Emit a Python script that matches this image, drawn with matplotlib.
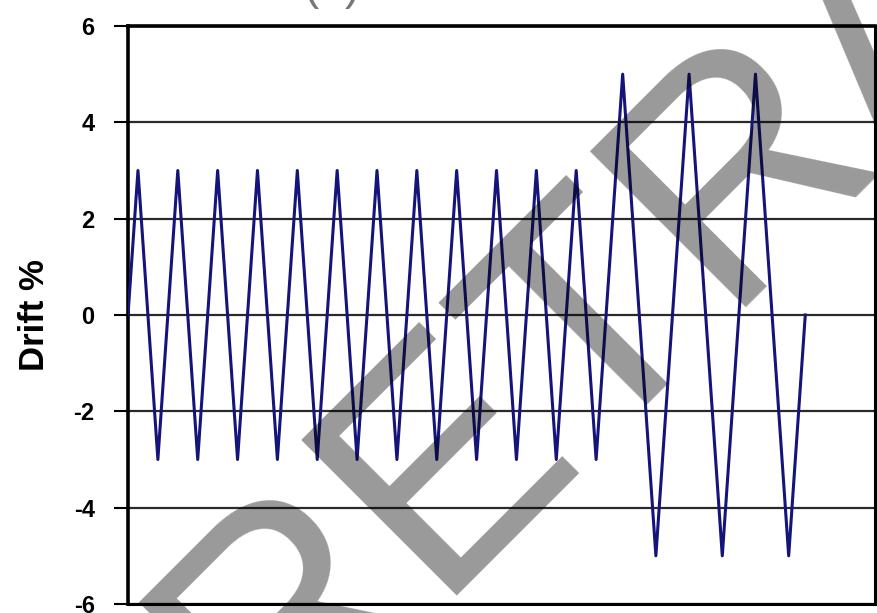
"""
Drift history of the cyclic loading protocol (retracted figure).
"""

import matplotlib
matplotlib.use("Agg")
import matplotlib.pyplot as plt

# turning points of the drift history (time in arbitrary steps, drift in %)
TIME = [0, 3, 9, 15, 21, 27, 33, 39, 45, 51, 57, 63, 69, 75, 81, 87, 93,
        99, 105, 111, 117, 123, 129, 135, 141, 149, 159, 169, 179, 189,
        199, 204]
DRIFT = [0, 3, -3, 3, -3, 3, -3, 3, -3, 3, -3, 3, -3, 3, -3, 3, -3,
         3, -3, 3, -3, 3, -3, 3, -3, 5, -5, 5, -5, 5, -5, 0]

Y_TICKS = [-6, -4, -2, 0, 2, 4, 6]

plt.rcParams["font.family"] = ["Liberation Sans", "DejaVu Sans"]

W, H = 878, 613
fig = plt.figure(figsize=(W / 100, H / 100), dpi=100)
ax = fig.add_axes([128 / W, 1 - 604 / H, (875 - 128) / W, (604 - 26) / H])

ax.plot(TIME, DRIFT, color="#14147a", linewidth=2.2, zorder=3)

ax.set_xlim(0, 225)
ax.set_ylim(-6, 6)
ax.set_yticks(Y_TICKS)
ax.set_yticklabels([str(v) for v in Y_TICKS], fontsize=17, fontweight="bold")
ax.set_xticks([])
ax.tick_params(axis="y", direction="out", length=10, width=1.5, pad=14)
ax.grid(axis="y", color="#2a2a2a", linewidth=1.6)
ax.set_axisbelow(True)

for side in ["left", "top"]:
    ax.spines[side].set_linewidth(2.6)
for side in ["right", "bottom"]:
    ax.spines[side].set_linewidth(2.2)

ax.set_ylabel("Drift %", fontsize=25, fontweight="bold", labelpad=16)

# title, mostly cut off at the top edge of the image
fig.text(420 / W, 1 + 1 / H, "(a) Model 1", fontsize=33, color="#777777",
         ha="center", va="baseline")

# watermark
fig.text(269 / W, 1 - 758 / H, "RETRACTED", fontsize=230, color="black",
         alpha=0.4, rotation=45, rotation_mode="anchor",
         ha="left", va="baseline", zorder=10)

fig.savefig("out.png", dpi=100)
